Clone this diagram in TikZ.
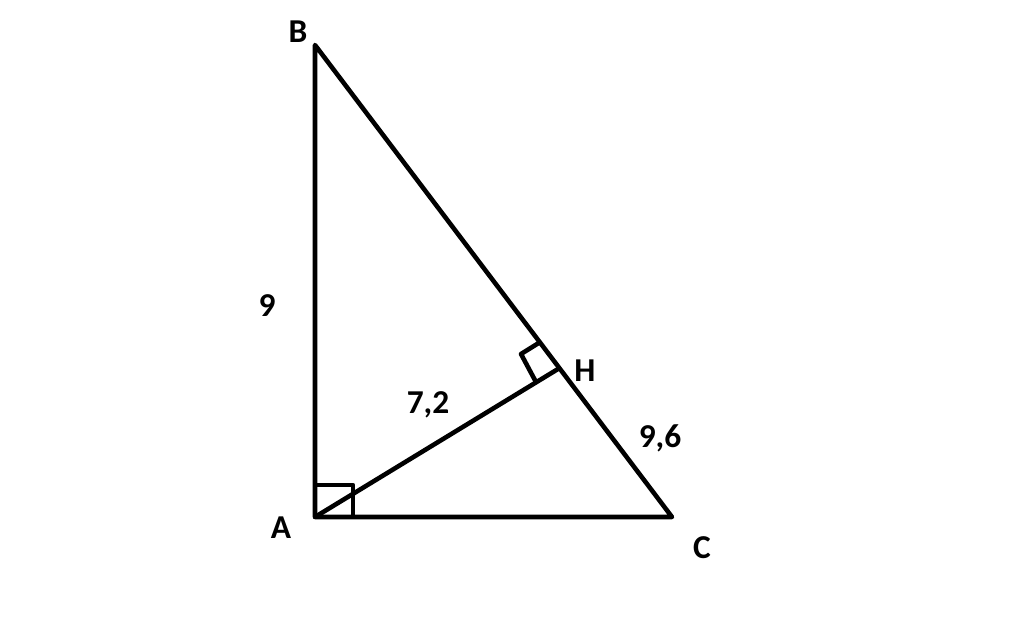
\documentclass[tikz,border=0pt]{standalone}
\usepackage{fontspec}
\setmainfont{Carlito}
\usetikzlibrary{calc}

\begin{document}
\begin{tikzpicture}[x=0.02cm,y=-0.02cm,line width=2.6pt,line join=round,
    lbl/.style={font=\fontsize{19}{21}\selectfont\bfseries,inner sep=0pt}]
      \useasboundingbox (0,0) rectangle (1024,628);
      \coordinate (A) at (315,517);
      \coordinate (B) at (315,45);
      \coordinate (C) at (672,517);
      \coordinate (H) at (558,369);
      \node[lbl] (lA) at (281,528) {A};
      \node[lbl] (lB) at (298,32) {B};
      \node[lbl] (lC) at (702,548) {C};
      \node[lbl] (lH) at (585,371) {H};
      \node[lbl] (lAB) at (267,306) {9};
      \node[lbl] (lAH) at (428,405) {7,2};
      \node[lbl] (lHC) at (660,438) {9,6};
        \draw (A) -- (B) -- (C) -- cycle;
        \draw (A) -- (H);
        % right angles
        \draw (A) rectangle ($(A)+(38,-32)$);
        \draw ($(H)!0.08!(B)$) -- (521,354) -- ($(H)!0.09!(A)$);
    \end{tikzpicture}
\end{document}
